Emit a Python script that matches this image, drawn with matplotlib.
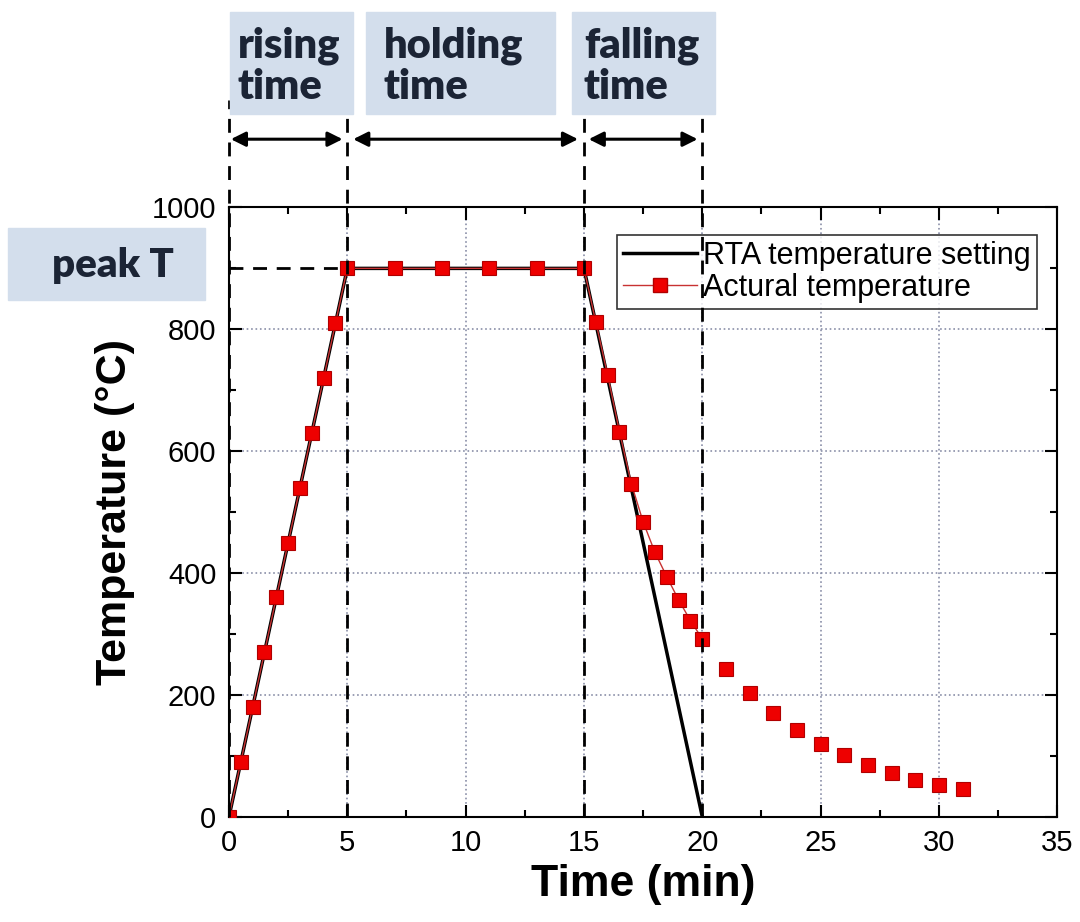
import matplotlib
matplotlib.use("Agg")
import matplotlib.pyplot as plt
from matplotlib.patches import Rectangle
from matplotlib.ticker import MultipleLocator

# RTA set profile
set_time = [0, 5, 15, 20]
set_temp = [0, 900, 900, 0]

# measured temperature
act_time = [0, 0.5, 1, 1.5, 2, 2.5, 3, 3.5, 4, 4.5, 5,
            7, 9, 11, 13, 15,
            15.5, 16, 16.5, 17, 17.5, 18, 18.5, 19, 19.5, 20,
            21, 22, 23, 24, 25, 26, 27, 28, 29, 30, 31]
act_temp = [0, 90, 180, 270, 360, 450, 540, 630, 720, 810, 900,
            900, 900, 900, 900, 900,
            812, 725, 632, 547, 484, 434, 394, 356, 322, 292,
            243, 204, 170, 143, 120, 102, 85, 72, 61, 53, 45]

phase_edges = [0, 5, 15, 20]
phase_names = ["rising\ntime", "holding\ntime", "falling\ntime"]
peak_T = 900

plt.rcParams['font.family'] = ['Liberation Sans', 'DejaVu Sans']
box_font = ['Lato', 'Open Sans', 'DejaVu Sans']

fig = plt.figure(figsize=(10.8, 9.22), dpi=100)
ax = fig.add_axes([0.212, 0.114, 0.767, 0.661])

ax.plot(set_time, set_temp, color='black', lw=2.5, marker='.', markersize=1,
        label='RTA temperature setting', zorder=3)
# line only joins the points up to 20 min
n_line = sum(1 for t in act_time if t <= 20)
ax.plot(act_time[:n_line], act_temp[:n_line], color='#c83232', lw=1, zorder=4)
ax.plot(act_time, act_temp, ls='none', marker='s', markersize=9.5,
        markerfacecolor='#ee0000', markeredgecolor='#b00000', markeredgewidth=0.8,
        zorder=5)
# legend proxy for the actual temperature
ax.plot([], [], color='#c83232', lw=1, marker='s', markersize=9.5,
        markerfacecolor='#ee0000', markeredgecolor='#b00000',
        label='Actural temperature')

ax.set_xlim(0, 35)
ax.set_ylim(0, 1000)
ax.xaxis.set_major_locator(MultipleLocator(5))
ax.xaxis.set_minor_locator(MultipleLocator(2.5))
ax.yaxis.set_major_locator(MultipleLocator(200))
ax.yaxis.set_minor_locator(MultipleLocator(100))
ax.tick_params(which='both', direction='in', top=True, right=True,
               labelsize=21, pad=9, width=1.5)
ax.tick_params(which='major', length=9)
ax.tick_params(which='minor', length=5)
ax.grid(which='major', color='#8a8fa8', ls=':', lw=1.2)
for s in ax.spines.values():
    s.set_linewidth(1.5)

ax.set_xlabel('Time (min)', fontsize=32, fontweight='bold', labelpad=5)
ax.set_ylabel('Temperature (°C)', fontsize=31, fontweight='bold', labelpad=12)

leg = ax.legend(loc='upper right', bbox_to_anchor=(0.975, 0.955), fontsize=22,
                frameon=True, fancybox=False, edgecolor='black',
                handlelength=2.4, handletextpad=0.2, borderpad=0.2,
                labelspacing=0.05, borderaxespad=0)
leg.get_frame().set_linewidth(1.2)

# dashed guide lines
for x in phase_edges:
    ax.plot([x, x], [0, 1177], color='black', lw=2, ls=(0, (5, 3.5)),
            clip_on=False, zorder=6)
ax.plot([0, 5], [peak_T, peak_T], color='black', lw=2, ls=(0, (5, 3.5)), zorder=2)

# double arrows between the guides
gaps = [(0.08, 0.2), (0.25, 0.25), (0.2, 0.2)]
for i in range(3):
    a = phase_edges[i] + gaps[i][0]
    b = phase_edges[i + 1] - gaps[i][1]
    ax.annotate('', xy=(b, 1112), xytext=(a, 1112), annotation_clip=False,
                arrowprops=dict(arrowstyle='<|-|>', color='black', lw=2.2,
                                mutation_scale=22, shrinkA=0, shrinkB=0))

# label boxes
box_col = '#d3deec'
txt_col = '#1b2435'
boxes = [(230, 353), (366, 555), (572, 715)]
text_x = [238, 384, 584]
W, H = 1080, 922
for (x0, x1), tx, name in zip(boxes, text_x, phase_names):
    fig.patches.append(Rectangle((x0 / W, 1 - 114 / H), (x1 - x0) / W, 102 / H,
                                 transform=fig.transFigure, color=box_col, zorder=0))
    fig.text(tx / W, 1 - 66 / H, name, fontsize=30, fontweight='heavy',
             color=txt_col, family=box_font,
             va='center', ha='left', linespacing=1.1)

fig.patches.append(Rectangle((8 / W, 1 - 300 / H), 197 / W, 72 / H,
                             transform=fig.transFigure, color=box_col, zorder=0))
fig.text(113 / W, 1 - 266 / H, 'peak T', fontsize=29, fontweight='heavy',
         color=txt_col, family=box_font,
         va='center', ha='center')

fig.savefig('out.png', dpi=100)
